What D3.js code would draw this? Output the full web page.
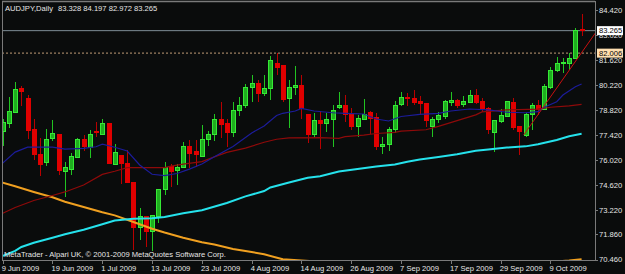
<!DOCTYPE html>
<html>
<head>
<meta charset="utf-8">
<script src="https://cdn.jsdelivr.net/npm/d3@7"></script>
<style>
  html, body { margin: 0; padding: 0; background: #0a0c0c; }
  svg { display: block; }
  text { font-family: "Liberation Sans", Arial, sans-serif; font-size: 7.6px; fill: #e6e6e6; }
</style>
</head>
<body>
<div id="chart"></div>
<script>
var symbol = 'AUDJPY,Daily';
var lastQuote = [83.328, 84.197, 82.972, 83.265];
var credit = 'MetaTrader - Alpari UK, \u00a9 2001-2009 MetaQuotes Software Corp.';

// x labels sit on every 8th bar
var dateLabels = ['9 Jun 2009', '19 Jun 2009', '1 Jul 2009', '13 Jul 2009', '23 Jul 2009', '4 Aug 2009',
  '14 Aug 2009', '26 Aug 2009', '7 Sep 2009', '17 Sep 2009', '29 Sep 2009', '9 Oct 2009'];
var dateLabelBars = [0, 8, 16, 24, 32, 40, 48, 56, 64, 72, 80, 88];
var priceTicks = [84.42, 83.02, 81.62, 80.22, 78.82, 77.42, 76.02, 74.62, 73.22, 71.86, 70.46];

var bidLevel = 83.265;
var alertLevel = 82.006;

// [open, high, low, close]
var candles = [
  [77.61, 78.32, 76.81, 78.10], [78.08, 79.54, 77.80, 78.73], [78.70, 80.37, 78.64, 79.98], [80.00, 80.18, 79.07, 79.85],
  [79.46, 79.66, 77.20, 77.67], [77.71, 78.32, 76.03, 76.31], [76.35, 77.28, 75.15, 75.79], [75.88, 77.75, 75.69, 77.19],
  [77.22, 78.27, 77.11, 77.52], [77.43, 77.45, 75.19, 75.43], [75.40, 75.90, 73.97, 75.60], [75.52, 76.40, 75.19, 76.21],
  [76.16, 77.24, 76.12, 77.15], [77.15, 77.43, 76.53, 76.77], [76.74, 77.71, 76.12, 77.48], [77.61, 78.17, 77.31, 77.55],
  [77.47, 78.32, 77.43, 78.08], [78.08, 78.11, 75.80, 75.84], [75.79, 76.91, 75.75, 76.46], [76.27, 76.31, 74.69, 75.84],
  [75.84, 76.59, 74.72, 74.76], [74.78, 74.80, 70.99, 72.24], [72.24, 73.33, 71.55, 72.86], [72.86, 72.88, 71.18, 72.02],
  [72.02, 72.93, 70.94, 72.91], [72.86, 74.36, 72.52, 74.35], [74.35, 75.93, 74.07, 75.60], [75.69, 75.80, 74.50, 75.37],
  [75.43, 75.80, 74.63, 75.60], [75.60, 77.05, 75.56, 76.81], [76.81, 77.15, 75.56, 76.40], [76.49, 77.15, 75.65, 76.31],
  [76.25, 77.99, 76.18, 77.19], [77.19, 77.65, 76.81, 77.43], [77.43, 78.60, 77.11, 78.30], [78.30, 79.26, 77.28, 78.04],
  [78.08, 78.30, 76.77, 77.55], [77.55, 79.26, 77.30, 78.77], [78.79, 79.54, 78.49, 79.07], [79.07, 80.26, 78.92, 80.11],
  [80.07, 80.78, 79.26, 80.28], [80.28, 80.50, 79.26, 79.76], [79.76, 80.78, 79.63, 80.04], [80.00, 81.85, 79.38, 81.58],
  [81.44, 82.00, 80.78, 81.19], [81.29, 81.30, 79.26, 79.44], [79.48, 80.50, 77.83, 80.10], [80.07, 81.29, 79.66, 80.22],
  [80.22, 80.78, 78.30, 78.92], [78.60, 78.62, 76.96, 77.43], [77.43, 78.67, 77.24, 78.21], [78.21, 78.77, 76.64, 78.08],
  [78.08, 78.67, 77.58, 78.30], [78.27, 79.10, 76.77, 78.77], [78.98, 79.82, 78.88, 79.10], [79.10, 79.66, 78.17, 78.55],
  [78.55, 78.92, 77.71, 77.89], [77.89, 78.55, 77.30, 78.36], [78.30, 79.42, 78.28, 78.55], [78.67, 78.77, 77.48, 78.36],
  [78.42, 78.67, 76.59, 76.77], [76.77, 77.33, 76.36, 76.92], [76.91, 77.89, 76.53, 77.75], [77.71, 79.33, 77.52, 79.05],
  [79.14, 79.82, 79.05, 79.54], [79.54, 79.79, 79.05, 79.46], [79.48, 79.94, 79.10, 79.26], [79.29, 79.61, 78.55, 79.20],
  [79.20, 79.22, 77.89, 78.23], [77.89, 78.45, 77.33, 78.32], [78.32, 78.70, 78.08, 78.51], [78.45, 79.38, 78.32, 79.29],
  [79.27, 79.82, 79.05, 79.35], [79.38, 79.44, 78.92, 79.07], [79.14, 79.61, 78.98, 79.29], [79.26, 79.94, 79.23, 79.61],
  [79.61, 79.98, 79.16, 79.23], [79.29, 79.48, 78.73, 78.92], [78.92, 78.98, 77.47, 77.71], [77.55, 78.27, 76.49, 78.21],
  [78.17, 78.86, 78.11, 78.49], [78.45, 79.33, 78.42, 79.29], [79.23, 79.48, 77.71, 77.86], [77.89, 77.91, 76.31, 77.61],
  [77.39, 78.64, 77.33, 78.55], [78.55, 79.20, 77.71, 79.05], [79.05, 79.38, 78.55, 78.86], [78.86, 80.28, 78.83, 80.13],
  [80.07, 81.21, 79.98, 81.06], [81.01, 81.81, 80.97, 81.40], [81.40, 81.72, 80.91, 81.47], [81.40, 82.00, 81.06, 81.72],
  [81.70, 83.43, 81.68, 83.30], [83.328, 84.197, 82.972, 83.265]
];

// moving averages: [bar, price]
var maFast = [[0, 75.86], [2, 76.47], [4, 76.75], [8, 76.75], [10, 76.64], [13, 76.68], [15, 76.77], [16, 76.91],
  [18, 76.74], [20, 76.53], [22, 75.75], [24, 75.23], [26, 75.15], [28, 75.27], [30, 75.52], [32, 75.80], [34, 76.21],
  [37, 76.78], [40, 77.54], [42, 77.93], [44, 78.52], [45, 78.64], [47, 78.77], [48, 78.91], [50, 78.77], [53, 78.67],
  [55, 78.64], [58, 78.60], [60, 78.32], [62, 78.21], [64, 78.46], [67, 78.58], [70, 78.64], [72, 78.77], [75, 78.88],
  [78, 78.83], [81, 78.70], [84, 78.67], [86, 78.73], [87, 78.98], [89, 79.29], [90, 79.66], [92, 80.13], [93, 80.28]];
var maMid = [[0, 73.05], [2, 73.37], [5, 73.76], [8, 74.04], [10, 74.24], [13, 74.63], [16, 75.22], [18, 75.40],
  [20, 75.60], [26, 75.60], [27, 75.68], [29, 75.80], [32, 75.94], [34, 76.20], [36, 76.45], [39, 76.69], [42, 77.02],
  [44, 77.19], [46, 77.27], [51, 77.28], [54, 77.24], [55, 77.33], [58, 77.42], [60, 77.51], [63, 77.57], [64, 77.64],
  [68, 77.72], [70, 77.91], [73, 78.23], [76, 78.55], [77, 78.72], [81, 78.83], [86, 78.87], [88, 78.98], [91, 79.06],
  [93, 79.14]];
var maSlow = [[0, 70.66], [2, 70.94], [3, 71.16], [5, 71.40], [8, 71.68], [10, 71.87], [13, 72.12], [16, 72.43],
  [18, 72.64], [21, 72.74], [24, 72.77], [26, 72.84], [29, 73.05], [32, 73.22], [36, 73.62], [39, 73.99], [42, 74.29],
  [43, 74.49], [46, 74.77], [49, 75.03], [51, 75.12], [54, 75.38], [57, 75.52], [60, 75.66], [63, 75.78], [65, 75.93],
  [67, 76.05], [70, 76.20], [73, 76.35], [76, 76.54], [78, 76.62], [81, 76.72], [84, 76.79], [86, 76.91], [89, 77.15],
  [91, 77.36], [93, 77.49]];
var maLong = [[0, 74.76], [2, 74.56], [5, 74.24], [8, 73.94], [10, 73.69], [13, 73.40], [16, 73.10], [18, 72.93],
  [21, 72.56], [24, 72.18], [26, 71.97], [29, 71.68], [32, 71.43], [34, 71.30], [37, 71.05], [40, 70.88], [42, 70.75],
  [45, 70.47], [48, 70.40], [55, 70.27], [70, 70.15], [85, 70.27], [91, 70.40], [93, 70.47]];
var trendLine = [[83.7, 77.43], [96, 83.52]];

var W = 625, H = 274;
var plot = { left: 2, top: 2, right: 595, bottom: 260 };

var svg = d3.select('#chart').append('svg').attr('width', W).attr('height', H);
svg.append('rect').attr('width', W).attr('height', H).attr('fill', '#0a0c0c');

svg.append('clipPath').attr('id', 'plotClip')
  .append('rect')
  .attr('x', plot.left + 1).attr('y', plot.top)
  .attr('width', plot.right - plot.left - 1).attr('height', plot.bottom - plot.top);

var x = d3.scaleLinear().domain([0, candles.length - 1]).range([2.7, 581.6]);
var y = d3.scaleLinear().domain([70.46, 84.42]).range([259.5, 10]);

var frameColor = '#7a7a7a';
// chart frame
svg.append('line').attr('x1', plot.left).attr('x2', plot.right).attr('y1', 1.5).attr('y2', 1.5)
  .attr('stroke', frameColor).attr('stroke-width', 1.5);
svg.append('line').attr('x1', plot.left + 0.5).attr('x2', plot.left + 0.5).attr('y1', 1).attr('y2', plot.bottom)
  .attr('stroke', frameColor);
svg.append('line').attr('x1', plot.right + 0.5).attr('x2', plot.right + 0.5).attr('y1', 1).attr('y2', plot.bottom + 1)
  .attr('stroke', frameColor);
svg.append('line').attr('x1', plot.left).attr('x2', plot.right + 1).attr('y1', plot.bottom + 0.5).attr('y2', plot.bottom + 0.5)
  .attr('stroke', frameColor);

var g = svg.append('g').attr('clip-path', 'url(#plotClip)');

// level lines
g.append('line').attr('x1', plot.left).attr('x2', plot.right)
  .attr('y1', y(bidLevel)).attr('y2', y(bidLevel))
  .attr('stroke', '#7d8c96').attr('stroke-width', 1);
g.append('line').attr('x1', plot.left).attr('x2', plot.right)
  .attr('y1', y(alertLevel)).attr('y2', y(alertLevel))
  .attr('stroke', '#9c7f60').attr('stroke-width', 1.3).attr('stroke-dasharray', '2,2');

// candles
var bars = g.append('g').attr('shape-rendering', 'crispEdges')
  .selectAll('g').data(candles).enter().append('g');

bars.append('rect')
  .attr('x', function(d, i) { return Math.round(x(i)); })
  .attr('width', 1)
  .attr('y', function(d) { return y(d[1]); })
  .attr('height', function(d) { return Math.max(1, y(d[2]) - y(d[1])); })
  .attr('fill', function(d) { return d[3] >= d[0] ? '#21c421' : '#b80000'; });

bars.append('rect')
  .attr('x', function(d, i) { return Math.round(x(i)) - 1.5; })
  .attr('width', 4)
  .attr('y', function(d) { return y(Math.max(d[0], d[3])); })
  .attr('height', function(d) { return Math.max(1, Math.abs(y(d[0]) - y(d[3]))); })
  .attr('fill', function(d) { return d[3] >= d[0] ? '#1fae1f' : '#e00000'; })
  .attr('stroke', function(d) { return d[3] >= d[0] ? '#35ea35' : '#e00000'; })
  .attr('stroke-width', 1);

// indicators
var line = d3.line()
  .x(function(d) { return x(d[0]); })
  .y(function(d) { return y(d[1]); });

g.append('path').datum(maLong).attr('d', line)
  .attr('fill', 'none').attr('stroke', '#f0a020').attr('stroke-width', 2);
g.append('path').datum(maSlow).attr('d', line)
  .attr('fill', 'none').attr('stroke', '#25e2ec').attr('stroke-width', 2);
g.append('path').datum(maMid).attr('d', line)
  .attr('fill', 'none').attr('stroke', '#8e0a0a').attr('stroke-width', 1.2);
g.append('path').datum(maFast).attr('d', line)
  .attr('fill', 'none').attr('stroke', '#1c1c9a').attr('stroke-width', 1.2);
g.append('path').datum(trendLine).attr('d', line)
  .attr('fill', 'none').attr('stroke', '#c81010').attr('stroke-width', 1);

// price axis
var py = svg.append('g');
py.selectAll('line').data(priceTicks).enter().append('line')
  .attr('x1', plot.right + 0.5).attr('x2', plot.right + 3)
  .attr('y1', function(d) { return Math.round(y(d)) + 0.5; })
  .attr('y2', function(d) { return Math.round(y(d)) + 0.5; })
  .attr('stroke', frameColor);
py.selectAll('text').data(priceTicks).enter().append('text')
  .attr('x', 599)
  .attr('y', function(d) { return y(d) + 2.8; })
  .text(function(d) { return d.toFixed(3); });

// level tags on the price axis
function levelTag(value, bg) {
  var t = svg.append('g');
  t.append('rect').attr('x', 597).attr('y', y(value) - 4.5).attr('width', 26).attr('height', 9)
    .attr('fill', bg);
  t.append('text').attr('x', 599).attr('y', y(value) + 2.8)
    .style('fill', '#000').text(value.toFixed(3));
}
levelTag(bidLevel, '#ffffff');
levelTag(alertLevel, '#ffdfb0');

// date axis
var dx = svg.append('g');
dx.selectAll('line').data(dateLabelBars).enter().append('line')
  .attr('x1', function(d) { return Math.round(x(d)) + 0.5; })
  .attr('x2', function(d) { return Math.round(x(d)) + 0.5; })
  .attr('y1', plot.bottom + 1).attr('y2', plot.bottom + 4)
  .attr('stroke', frameColor);
dx.selectAll('text').data(dateLabels).enter().append('text')
  .attr('x', function(d, i) { return x(dateLabelBars[i]) - 1; })
  .attr('y', 271)
  .text(function(d) { return d; });

// header and credit
svg.append('text').attr('x', 5).attr('y', 11).text(symbol);
svg.append('text').attr('x', 58).attr('y', 11)
  .text(lastQuote.map(function(v) { return v.toFixed(3); }).join(' '));
svg.append('text').attr('x', 4).attr('y', 256.5).text(credit);
</script>
</body>
</html>
